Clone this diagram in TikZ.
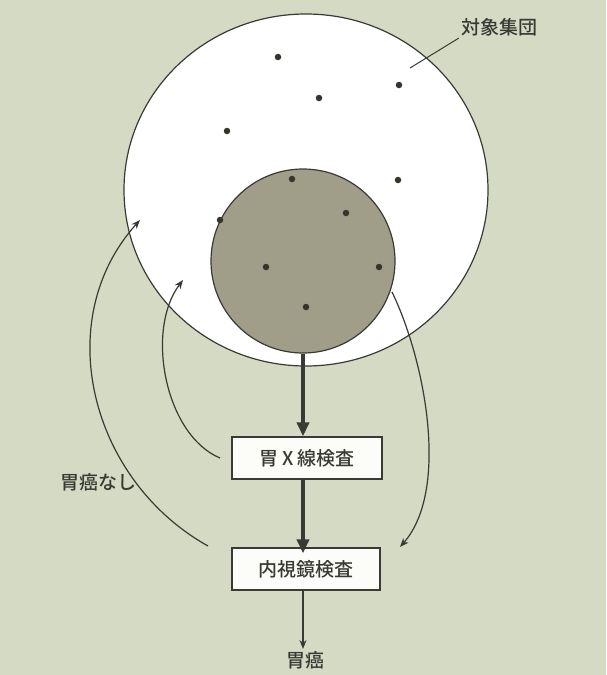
\documentclass[tikz,border=0pt]{standalone}
\usepackage{fontspec}
\newfontfamily\jp{Noto Sans CJK JP Medium}
\usetikzlibrary{shapes.geometric,arrows.meta}
\definecolor{bgc}{RGB}{212,218,196}
\definecolor{innc}{RGB}{160,157,137}
\definecolor{linec}{RGB}{58,58,52}
\definecolor{dotc}{RGB}{55,52,45}
\definecolor{boxc}{RGB}{252,252,248}
\tikzset{
  every node/.style={font=\jp\fontsize{19}{22}\selectfont, text=linec},
  stepbox/.style={draw=linec, line width=1.3pt, fill=boxc, minimum width=150pt, minimum height=42pt, inner sep=0pt},
  dotn/.style={circle, fill=dotc, minimum size=6.5pt, inner sep=0pt},
  thickarr/.style={draw=linec, line width=3.5pt, -{Triangle[length=14pt,width=12pt]}},
  thinarr/.style={draw=linec, line width=1.2pt, -{Stealth[length=9pt,width=7pt]}},
}
\begin{document}
\begin{tikzpicture}[x=1pt,y=-1pt]
\fill[bgc] (0,0) rectangle (606,675);
\useasboundingbox (0,0) rectangle (606,675);
\node[ellipse, draw=linec, line width=1.2pt, fill=white, minimum width=364pt, minimum height=352pt, inner sep=0pt] (pop) at (306,190) {};
\node[circle, draw=linec, line width=1.2pt, fill=innc, minimum size=184pt, inner sep=0pt] (inner) at (303,261) {};
% dots
\node[dotn] (d1) at (278,57) {};
\node[dotn] (d2) at (399,85) {};
\node[dotn] (d3) at (319,98) {};
\node[dotn] (d4) at (227,131) {};
\node[dotn] (d5) at (398,180) {};
\node[dotn] (d6) at (292,179) {};
\node[dotn] (d7) at (346,213) {};
\node[dotn] (d8) at (220,220) {};
\node[dotn] (d9) at (266,267) {};
\node[dotn] (d10) at (379,267) {};
\node[dotn] (d11) at (306,307) {};
% boxes
\node[stepbox] (xray) at (307,458) {胃 X 線検査};
\node[stepbox, minimum width=148pt] (endo) at (306,569) {内視鏡検査};
\node[inner sep=2pt] (cancer) at (305,660) {胃癌};
\node[inner sep=2pt] (nocan) at (98,482) {胃癌なし};
\node[inner sep=2pt] (poplab) at (499,27) {対象集団};
\coordinate (lead) at (410,68);
% arrows
\draw[thickarr] (inner.south) -- (inner.south |- xray.north);
\draw[thickarr] (inner.south |- xray.south) -- ([yshift=-6pt]inner.south |- endo.north);
\draw[thinarr] (inner.south |- endo.south) -- (inner.south |- cancer.north);
\draw[linec, line width=1pt] (lead) -- (poplab.south west);
% curves
\coordinate (c1s) at (220,458);
\coordinate (c1e) at (183,280);
\coordinate (c2s) at (208,546);
\coordinate (c2e) at (140,220);
\coordinate (c3s) at (392,292);
\coordinate (c3e) at (400,547);
\draw[thinarr] (c1s) .. controls (165,435) and (145,330) .. (c1e);
\draw[thinarr] (c2s) .. controls (90,480) and (50,320) .. (c2e);
\draw[thinarr] (c3s) .. controls (425,360) and (450,490) .. (c3e);
\end{tikzpicture}
\end{document}
